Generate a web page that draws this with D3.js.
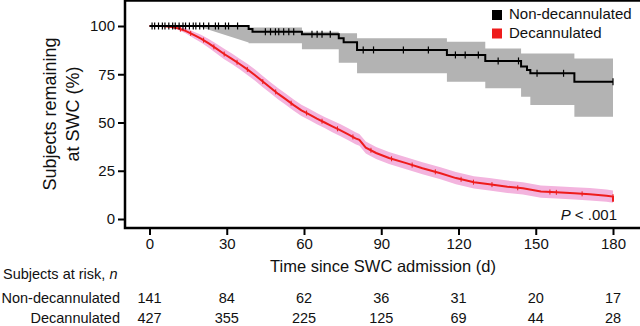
<!DOCTYPE html>
<html>
<head>
<meta charset="utf-8">
<script src="https://cdn.jsdelivr.net/npm/d3@7/dist/d3.min.js"></script>
<style>
body { margin: 0; background: #fff; }
text { font-family: "Liberation Sans", Arial, sans-serif; fill: #111; }
</style>
</head>
<body>
<div class="container"></div>
<script>
// ticks / labels
const xTicks = [0, 30, 60, 90, 120, 150, 180]
const yTicks = [0, 25, 50, 75, 100]
const groups = ["Non-decannulated", "Decannulated"]

// non-decannulated KM (step after)
const nonDays = [0, 38.5, 40, 59.2, 73.5, 75.4, 80.6, 115.5, 130.4, 144.3, 146.6, 147.9, 165, 180]
const nonSurv = [100, 98.4, 97.0, 95.7, 93.6, 91.6, 87.6, 85.0, 81.9, 79.0, 77.2, 75.5, 71.1, 71.1]
const nonCens = [1, 2, 3.5, 5, 6, 7.5, 9, 10, 11.5, 13, 14, 15.5, 17, 18, 19.5, 21, 23, 25.6, 26.8, 29.5, 30.7, 34.2,
  45, 47, 48.9, 50.2, 52.1, 54.1, 56, 63.1, 65.1, 67, 70.2, 83, 87, 98.6, 108.3, 118.8, 122.6, 127.7, 135.4, 143.3, 150.5, 160.8, 180]
// grey band outline
const nonCiDays = [0, 18.5, 38.5, 38.5, 59.2, 59.2, 73.5, 73.5, 80.6, 80.6, 115.5, 115.5, 130.4, 130.4, 144.3, 144.3, 147.9, 147.9, 165, 165, 180]
const nonCiLo = [100, 100, 91.5, 91, 91, 88, 88, 81, 81, 75.5, 75.5, 71.1, 71.1, 67.7, 67.7, 63.4, 63.4, 59.1, 59.1, 53, 53]
const nonCiHi = [100, 100, 100, 99.2, 99.2, 97, 97, 96.2, 96.2, 93.6, 93.6, 91.9, 91.9, 88.4, 88.4, 85.8, 85.8, 85.8, 85.8, 83.2, 83.2]

// decannulated KM
const decDays = [0, 5, 8, 11, 14, 17, 20, 23, 26, 29, 32, 35, 38, 41, 44, 47, 50, 53, 56, 59, 62, 65, 68, 71, 74, 77, 80, 81.5, 84, 88,
  93, 100, 106, 113, 119, 126, 132, 139, 145, 152, 158, 165, 171, 177.5, 180, 180]
const decSurv = [100, 100, 99.6, 98.8, 97.5, 95.5, 93.5, 91, 88.3, 85.5, 83, 80.3, 77.5, 74.5, 71.2, 68, 64.8, 62, 59, 56.3, 54.2, 52, 50, 48, 46.1, 44, 41.8, 41, 37, 34.2,
  31.6, 28.8, 26.3, 23.7, 21.2, 19, 18, 16.7, 15.9, 14.2, 13.8, 13.3, 12.8, 12.1, 11.6, 9]
const decCiLo = [100, 100, 99.3, 98.0, 96.2, 93.8, 91.5, 88.7, 85.8, 82.8, 80.3, 77.6, 74.6, 71.6, 68.3, 65.1, 61.9, 59.1, 56.1, 53.4, 51.3, 49.1, 47.1, 44.9, 43.0, 40.9, 38.7, 37.9, 33.9, 31.1,
  28.5, 25.7, 23.2, 20.6, 18.0, 15.8, 14.8, 13.5, 12.7, 11.0, 10.6, 10.1, 9.6, 8.9, 8.4, 8.4]
const decCiHi = [100, 100, 99.9, 99.6, 98.8, 97.2, 95.5, 93.3, 90.8, 88.2, 85.7, 83.0, 80.4, 77.4, 74.1, 70.9, 67.7, 64.9, 61.9, 59.2, 57.1, 54.9, 52.9, 51.1, 49.2, 47.1, 44.9, 44.1, 40.1, 37.3,
  34.7, 31.9, 29.4, 26.8, 24.4, 22.2, 21.2, 19.9, 19.1, 17.4, 17.0, 16.5, 16.0, 15.3, 14.8, 14.8]
const decCens = [12, 16, 21, 25, 29, 34, 38, 44, 49, 55, 61, 67, 73, 79, 86, 94,
  102, 111, 121, 125.8, 133, 143, 155.5, 158, 168, 180]

// numbers at risk
const riskNon = [141, 84, 62, 36, 31, 20, 17]
const riskDec = [427, 355, 225, 125, 69, 44, 28]

const wd = 640, ht = 326
const colRed = "#ee1c1c", colPink = "#f3b4de", colGrey = "#b3b3b3"

const svg = d3.select(".container").append("svg")
  .attr("width", wd)
  .attr("height", ht)

const x = d3.scaleLinear().domain([0, 180]).range([149.5, 613])
const y = d3.scaleLinear().domain([0, 100]).range([219, 26])

// bands
const nonBand = d3.zip(nonCiDays, nonCiLo, nonCiHi)
svg.append("path")
  .attr("d", d3.area().x(d => x(d[0])).y0(d => y(d[1])).y1(d => y(d[2]))(nonBand))
  .attr("fill", colGrey)

const decBand = d3.zip(decDays, decCiLo, decCiHi)
svg.append("path")
  .attr("d", d3.area().x(d => x(d[0])).y0(d => y(d[1])).y1(d => y(d[2]))(decBand))
  .attr("fill", colPink)

// red curve
const decPts = d3.zip(decDays, decSurv)
svg.append("path")
  .attr("d", d3.line().x(d => x(d[0])).y(d => y(d[1]))(decPts))
  .attr("fill", "none")
  .attr("stroke", colRed)
  .attr("stroke-width", 2)

const decAt = t => {
  let i = d3.bisectRight(decDays, t) - 1
  if (i >= decDays.length - 1) return decSurv[decSurv.length - 2]
  const t0 = decDays[i], t1 = decDays[i + 1]
  return decSurv[i] + (decSurv[i + 1] - decSurv[i]) * (t - t0) / (t1 - t0)
}
svg.append("g").selectAll("line")
  .data(decCens)
  .enter().append("line")
  .attr("x1", d => x(d)).attr("x2", d => x(d))
  .attr("y1", d => y(decAt(d)) - 2.5).attr("y2", d => y(decAt(d)) + 2.5)
  .attr("stroke", colRed)
  .attr("stroke-width", 1)

// black curve
const nonPts = d3.zip(nonDays, nonSurv)
svg.append("path")
  .attr("d", d3.line().curve(d3.curveStepAfter).x(d => x(d[0])).y(d => y(d[1]))(nonPts))
  .attr("fill", "none")
  .attr("stroke", "#000")
  .attr("stroke-width", 2)

const nonAt = t => nonSurv[Math.max(0, d3.bisectRight(nonDays, t) - 1)]
svg.append("g").selectAll("line")
  .data(nonCens)
  .enter().append("line")
  .attr("x1", d => x(d)).attr("x2", d => x(d))
  .attr("y1", d => y(nonAt(d)) - 3.5).attr("y2", d => y(nonAt(d)) + 3.5)
  .attr("stroke", "#000")
  .attr("stroke-width", 1.2)

// frame
svg.append("rect")
  .attr("x", 125).attr("y", 0.5)
  .attr("width", 520).attr("height", 227.5)
  .attr("fill", "none")
  .attr("stroke", "#000")
  .attr("stroke-width", 2.5)

// axes
const yAxis = svg.append("g")
  .attr("transform", "translate(125,0)")
  .call(d3.axisLeft(y).tickValues(yTicks).tickSize(7).tickPadding(3))
yAxis.select(".domain").remove()
yAxis.selectAll("line").attr("stroke-width", 2)
yAxis.selectAll("text").style("font-size", "15px").attr("fill", "#111")

const xAxis = svg.append("g")
  .attr("transform", "translate(0,228)")
  .call(d3.axisBottom(x).tickValues(xTicks).tickSize(7).tickPadding(3))
xAxis.select(".domain").remove()
xAxis.selectAll("line").attr("stroke-width", 2)
xAxis.selectAll("text").style("font-size", "15px").attr("fill", "#111")

// titles
svg.append("text")
  .attr("x", 383).attr("y", 272)
  .attr("text-anchor", "middle")
  .style("font-size", "16.5px")
  .text("Time since SWC admission (d)")

const yt = svg.append("text")
  .attr("transform", "translate(0,114) rotate(-90)")
  .attr("text-anchor", "middle")
  .style("font-size", "18px")
yt.append("tspan").attr("x", 0).attr("y", 56).text("Subjects remaining")
yt.append("tspan").attr("x", 0).attr("y", 79).text("at SWC (%)")

// legend
const leg = svg.append("g")
groups.forEach((g, i) => {
  leg.append("rect")
    .attr("x", 492).attr("y", 10 + i * 18.5)
    .attr("width", 10).attr("height", 10)
    .attr("fill", i == 0 ? "#000" : colRed)
  leg.append("text")
    .attr("x", 509).attr("y", 19 + i * 18.5)
    .style("font-size", "15px")
    .text(g)
})

const pt = svg.append("text")
  .attr("x", 617).attr("y", 220)
  .attr("text-anchor", "end")
  .style("font-size", "15px")
pt.append("tspan").style("font-style", "italic").text("P")
pt.append("tspan").text(" < .001")

// risk table
const rt = svg.append("text")
  .attr("x", 3).attr("y", 279)
  .style("font-size", "14.5px")
rt.append("tspan").text("Subjects at risk, ")
rt.append("tspan").style("font-style", "italic").text("n")

const rows = [riskNon, riskDec]
rows.forEach((r, i) => {
  const by = 303 + i * 19.5
  svg.append("text")
    .attr("x", 120).attr("y", by)
    .attr("text-anchor", "end")
    .style("font-size", "14.5px")
    .text(groups[i])
  svg.append("g").selectAll("text")
    .data(r)
    .enter().append("text")
    .attr("x", (d, j) => x(xTicks[j]))
    .attr("y", by)
    .attr("text-anchor", "middle")
    .style("font-size", "14.5px")
    .text(d => d)
})
</script>
</body>
</html>
